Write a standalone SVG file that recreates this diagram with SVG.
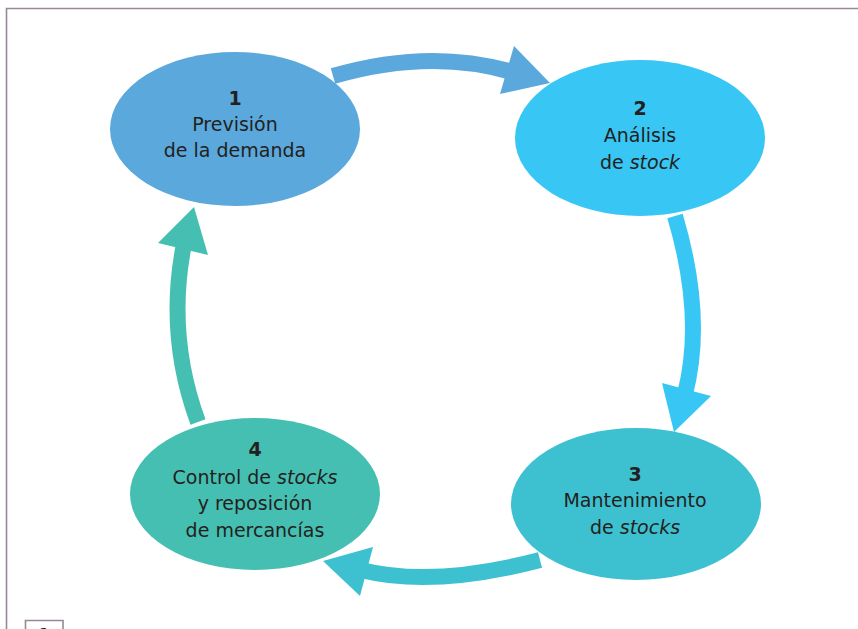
<svg xmlns="http://www.w3.org/2000/svg" width="858" height="629" viewBox="0 0 858 629">
<style>
  text { font-family: "DejaVu Sans", "Liberation Sans", sans-serif; font-size: 19px; fill: #231f20; text-anchor: middle; }
  .num { font-weight: bold; }
  .it { font-style: italic; }
  .shaft { fill: none; stroke-width: 16; stroke-linecap: butt; }
  .frame { stroke: #978897; stroke-width: 1.6; fill: none; }
</style>
<rect width="858" height="629" fill="#ffffff"/>
<g id="frame">
  <path class="frame" d="M6.5,629 V8.5 H858"/>
  <path class="frame" d="M25.5,629 V620.5 H63 V629"/>
  <text x="44" y="638" class="num" style="font-size:14px">1</text>
</g>
<g id="connectors">
  <g id="arrow-1-2">
    <path class="shaft" stroke="#5ba8dc" d="M333,76 Q430,48 512,72"/>
    <polygon fill="#5ba8dc" points="514,46 550,83 500,94"/>
  </g>
  <g id="arrow-2-3">
    <path class="shaft" stroke="#38c6f4" d="M675,216 Q705,317 685,394"/>
    <polygon fill="#38c6f4" points="662,383 711,396 674,432"/>
  </g>
  <g id="arrow-3-4">
    <path class="shaft" stroke="#3dc1d0" d="M540,560 Q433,588 361,570"/>
    <polygon fill="#3dc1d0" points="373,547 323,561 360,596"/>
  </g>
  <g id="arrow-4-1">
    <path class="shaft" stroke="#45bfb2" d="M198,422 Q166,335 184,244"/>
    <polygon fill="#45bfb2" points="158,243 194,207 208,255"/>
  </g>
</g>
<g id="node1">
  <ellipse cx="235" cy="129" rx="125" ry="77" fill="#5ba8dc"/>
  <text x="235" y="105" class="num">1</text>
  <text x="235" y="131">Previsión</text>
  <text x="235" y="157">de la demanda</text>
</g>
<g id="node2">
  <ellipse cx="640" cy="138" rx="125" ry="78" fill="#38c6f4"/>
  <text x="640" y="115" class="num">2</text>
  <text x="640" y="142">Análisis</text>
  <text x="640" y="169">de <tspan class="it">stock</tspan></text>
</g>
<g id="node3">
  <ellipse cx="636" cy="504" rx="125" ry="76" fill="#3dc1d0"/>
  <text x="635" y="481" class="num">3</text>
  <text x="635" y="507">Mantenimiento</text>
  <text x="635" y="534">de <tspan class="it">stocks</tspan></text>
</g>
<g id="node4">
  <ellipse cx="255" cy="494" rx="125" ry="76" fill="#45bfb2"/>
  <text x="255" y="456" class="num">4</text>
  <text x="255" y="484">Control de <tspan class="it">stocks</tspan></text>
  <text x="255" y="510">y reposición</text>
  <text x="255" y="537">de mercancías</text>
</g>
</svg>
